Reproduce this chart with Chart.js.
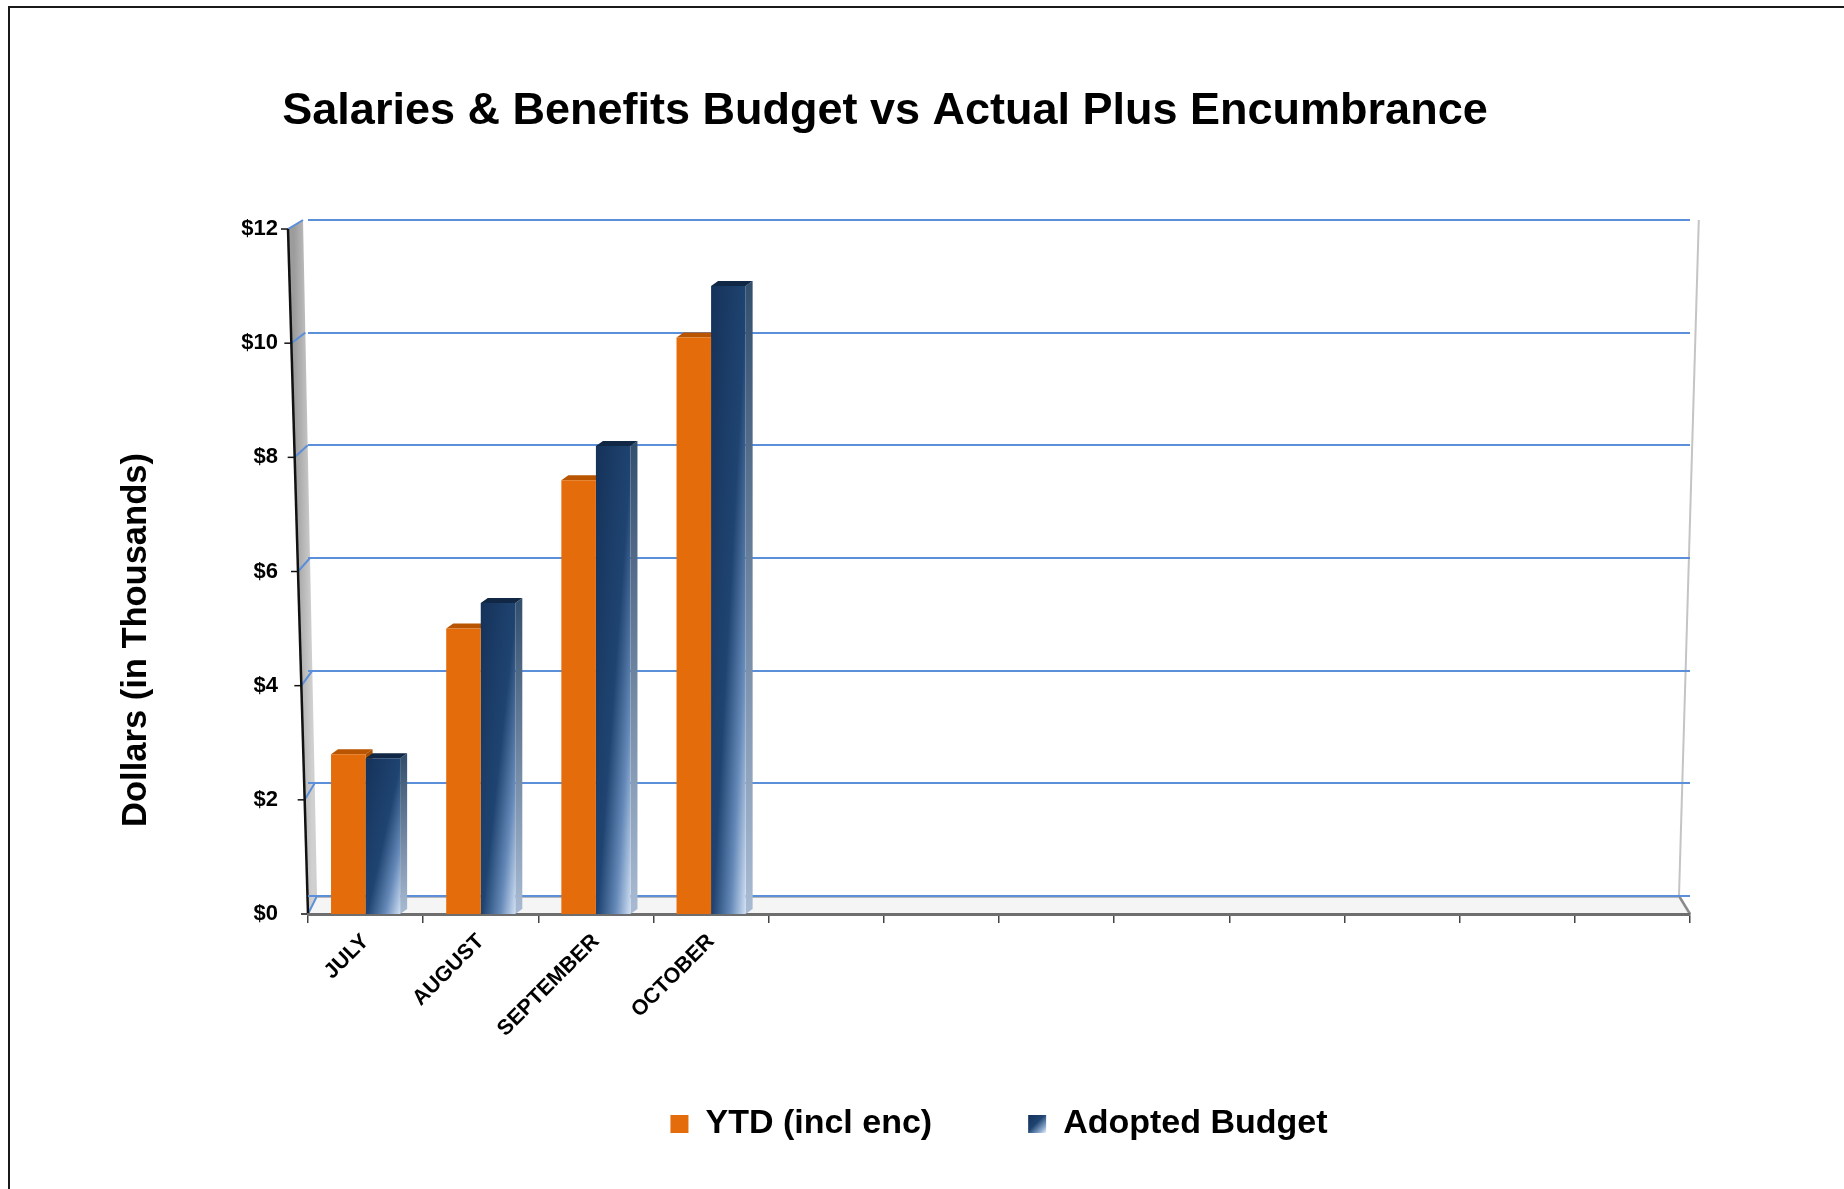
<!DOCTYPE html>
<html>
<head>
<meta charset="utf-8">
<script src="https://cdn.jsdelivr.net/npm/chart.js@4.4.1/dist/chart.umd.min.js"></script>
<style>
html,body{margin:0;padding:0;background:#fff;width:1844px;height:1189px;overflow:hidden;}
#frame{position:absolute;left:8px;top:6px;width:1900px;height:1300px;border-top:2px solid #1a1a1a;border-left:2px solid #1a1a1a;}
#c{position:absolute;left:0;top:0;}
</style>
</head>
<body>
<div id="frame"></div>
<canvas id="c" width="1770" height="1189"></canvas>
<script>
// ---- data ----
const categories = ['JULY', 'AUGUST', 'SEPTEMBER', 'OCTOBER', '', '', '', '', '', '', '', ''];
const ytdValues = [2.8, 5.0, 7.6, 10.1, null, null, null, null, null, null, null, null];
const budgetValues = [2.73, 5.45, 8.2, 11.0, null, null, null, null, null, null, null, null];
const yTickValues = [0, 2, 4, 6, 8, 10, 12];
const yTickLabels = ['$0', '$2', '$4', '$6', '$8', '$10', '$12'];
const seriesNames = ['YTD (incl enc)', 'Adopted Budget'];
const chartTitle = 'Salaries & Benefits Budget vs Actual Plus Encumbrance';
const yAxisTitle = 'Dollars (in Thousands)';

// ---- styles ----
const FONT = "'Liberation Sans', Arial, Helvetica, sans-serif";
const ORANGE = '#e46c0a';
const NAVY = '#1a3960';
const GRID = '#5b8fd9';
const CAT_PCT = 0.6;
const DX = 7, DY = 5;           // bar depth
const WALL = {frontSlant: 20, backBottom: 9, backTop: -5, floorDepthX: 11};

Chart.defaults.font.family = FONT;
Chart.defaults.color = '#000';

function navyGradient(ctx, x0, top, x1, base) {
  const w = Math.max(x1 - x0, 1), h = Math.max(base - top, 1);
  const k = 2 * w * h / (h * h + w * w);
  const g = ctx.createLinearGradient(x0, top, x0 + h * k, top + w * k);
  g.addColorStop(0, '#15325a');
  g.addColorStop(0.52, '#1f4471');
  g.addColorStop(0.78, '#6589b8');
  g.addColorStop(1, '#cfdff3');
  return g;
}

const depthPlugin = {
  id: 'depth',
  beforeDraw(chart) {
    const {ctx, chartArea: ca, scales} = chart;
    const ys = scales.y, yb = scales.y2;
    if (!ys || !yb) return;
    const L = ca.left, R = ca.right;
    const vmax = yTickValues[yTickValues.length - 1];
    const yF = v => ys.getPixelForValue(v);
    const yB = v => yb.getPixelForValue(v);
    const xF = v => L - WALL.frontSlant * v / vmax;
    const xB = v => L + WALL.backBottom + (WALL.backTop - WALL.backBottom) * v / vmax;
    ctx.save();
    // floor
    ctx.fillStyle = '#f5f5f5';
    ctx.beginPath();
    ctx.moveTo(xF(0), yF(0)); ctx.lineTo(R, yF(0));
    ctx.lineTo(R - WALL.floorDepthX, yB(0)); ctx.lineTo(xB(0), yB(0));
    ctx.closePath(); ctx.fill();
    // left side wall
    const wg = ctx.createLinearGradient(xF(6) - 4, 0, xB(6) + 2, 0);
    wg.addColorStop(0, '#9c9c9c'); wg.addColorStop(1, '#d0d0d0');
    ctx.fillStyle = wg;
    ctx.beginPath();
    ctx.moveTo(xF(vmax), yF(vmax)); ctx.lineTo(xB(vmax), yB(vmax));
    ctx.lineTo(xB(0), yB(0)); ctx.lineTo(xF(0), yF(0));
    ctx.closePath(); ctx.fill();
    // gridline continuation on side wall
    ctx.strokeStyle = GRID; ctx.lineWidth = 2;
    yTickValues.forEach(v => {
      ctx.beginPath(); ctx.moveTo(xF(v), yF(v)); ctx.lineTo(xB(v), yB(v)); ctx.stroke();
    });
    // right edges
    ctx.strokeStyle = '#c4c4c4'; ctx.lineWidth = 2;
    ctx.beginPath(); ctx.moveTo(R + WALL.floorDepthX * 0.8, yB(vmax)); ctx.lineTo(R - WALL.floorDepthX, yB(0)); ctx.stroke();
    ctx.strokeStyle = '#8a8a8a'; ctx.lineWidth = 2.5;
    ctx.beginPath(); ctx.moveTo(R, yF(0)); ctx.lineTo(R - WALL.floorDepthX, yB(0)); ctx.stroke();
    ctx.strokeStyle = '#b8b8b8'; ctx.lineWidth = 2;
    ctx.beginPath(); ctx.moveTo(xB(0), yB(0) + 1); ctx.lineTo(R - WALL.floorDepthX, yB(0) + 1); ctx.stroke();
    // slanted value axis + ticks
    ctx.strokeStyle = '#111'; ctx.lineWidth = 2.5;
    ctx.beginPath(); ctx.moveTo(xF(vmax), yF(vmax)); ctx.lineTo(xF(0), yF(0)); ctx.stroke();
    ctx.lineWidth = 1.5;
    yTickValues.forEach(v => {
      ctx.beginPath(); ctx.moveTo(xF(v) - 7, yF(v)); ctx.lineTo(xF(v), yF(v)); ctx.stroke();
    });
    ctx.restore();
    // legend gradient swatch
    const lg = chart.legend;
    if (lg && lg.legendHitBoxes && lg.legendHitBoxes[1] && lg.legendItems[1]) {
      const hb = lg.legendHitBoxes[1];
      const bh = lg.options.labels.boxHeight, bw = lg.options.labels.boxWidth;
      const fs = lg.options.labels.font.size;
      const t = hb.top + Math.max((fs - bh) / 2, 0);
      const g = ctx.createLinearGradient(hb.left, t, hb.left + bw, t + bh);
      g.addColorStop(0, '#15325a'); g.addColorStop(0.45, '#1f4471');
      g.addColorStop(0.8, '#8fabd0'); g.addColorStop(1, '#f0f5fb');
      lg.legendItems[1].fillStyle = g;
    }
  },
  beforeDatasetsDraw(chart) {
    const ctx = chart.ctx;
    ctx.save();
    chart.data.datasets.forEach((ds, di) => {
      const meta = chart.getDatasetMeta(di);
      meta.data.forEach((bar, i) => {
        if (ds.data[i] == null) return;
        const p = bar.getProps(['x', 'y', 'base', 'width'], true);
        if (!isFinite(p.y)) return;
        const l = p.x - p.width / 2, r = p.x + p.width / 2;
        let sf;
        if (di === 1) {
          sf = ctx.createLinearGradient(0, p.y, 0, p.base);
          sf.addColorStop(0, '#34506f'); sf.addColorStop(1, '#a9bbd3');
        } else sf = '#a94f02';
        ctx.fillStyle = sf;
        ctx.beginPath();
        ctx.moveTo(r, p.y); ctx.lineTo(r + DX, p.y - DY); ctx.lineTo(r + DX, p.base - DY); ctx.lineTo(r, p.base);
        ctx.closePath(); ctx.fill();
        ctx.fillStyle = di === 1 ? '#102745' : '#b95400';
        ctx.beginPath();
        ctx.moveTo(l, p.y); ctx.lineTo(l + DX, p.y - DY); ctx.lineTo(r + DX, p.y - DY); ctx.lineTo(r, p.y);
        ctx.closePath(); ctx.fill();
      });
    });
    ctx.restore();
  },
  afterDraw(chart) {
    const ctx = chart.ctx;
    ctx.save();
    ctx.translate(146, 640);
    ctx.rotate(-Math.PI / 2);
    ctx.font = 'bold 34.5px ' + FONT;
    ctx.fillStyle = '#000';
    ctx.textAlign = 'center';
    ctx.textBaseline = 'alphabetic';
    ctx.fillText(yAxisTitle, 0, 0);
    ctx.restore();
  }
};

new Chart(document.getElementById('c'), {
  type: 'bar',
  data: {
    labels: categories,
    datasets: [
      {label: seriesNames[0], data: ytdValues, backgroundColor: ORANGE, borderWidth: 0,
       categoryPercentage: CAT_PCT, barPercentage: 1.0},
      {label: seriesNames[1], data: budgetValues, borderWidth: 0,
       categoryPercentage: CAT_PCT, barPercentage: 1.0,
       backgroundColor: (c) => {
         const chart = c.chart, xs = chart.scales.x, ys = chart.scales.y;
         if (c.type !== 'data' || !xs || !ys || c.raw == null || !chart.chartArea) return NAVY;
         const cx = xs.getPixelForValue(c.dataIndex);
         const bw = (xs.width / categories.length) * CAT_PCT / 2;
         return navyGradient(chart.ctx, cx, ys.getPixelForValue(c.raw), cx + bw, ys.getPixelForValue(0));
       }}
    ]
  },
  options: {
    responsive: false,
    animation: false,
    devicePixelRatio: 1,
    layout: {padding: {left: 80, right: 80, top: 0, bottom: 38}},
    plugins: {
      title: {display: true, text: chartTitle, color: '#000',
              font: {size: 45, weight: 'bold', family: FONT}, padding: {top: 85, bottom: 81}},
      legend: {position: 'bottom', fullSize: false,
               labels: {color: '#000', font: {size: 34, weight: 'bold', family: FONT},
                        boxWidth: 18, boxHeight: 18, padding: 96}},
      tooltip: {enabled: false}
    },
    scales: {
      x: {
        offset: true,
        grid: {display: true, drawOnChartArea: false, drawTicks: true, tickLength: 9, color: '#444', lineWidth: 1.5, offset: true},
        border: {display: true, color: '#6e6e6e', width: 3},
        ticks: {autoSkip: false, maxRotation: 45, minRotation: 45, padding: 6,
                font: {size: 21.5, weight: 'bold', family: FONT}, color: '#000'},
        afterFit: (s) => { s.height = 97; s._computeLabelArea = () => undefined; }
      },
      y: {
        min: yTickValues[0], max: 12.158,
        ticks: {stepSize: 2, includeBounds: false, padding: 30, color: '#000',
                font: {size: 22, weight: 'bold', family: FONT},
                callback: (v) => { const i = yTickValues.indexOf(v); return i >= 0 ? yTickLabels[i] : ''; }},
        grid: {display: false, drawTicks: false},
        border: {display: false},
        afterFit: (s) => { s.width = 228; }
      },
      y2: {
        position: 'right', min: -0.32, max: 12,
        ticks: {display: false, stepSize: 2, includeBounds: false},
        grid: {color: GRID, lineWidth: 2, drawTicks: false},
        border: {display: false},
        afterFit: (s) => { s.width = 0; }
      }
    }
  },
  plugins: [depthPlugin]
});
</script>
</body>
</html>
